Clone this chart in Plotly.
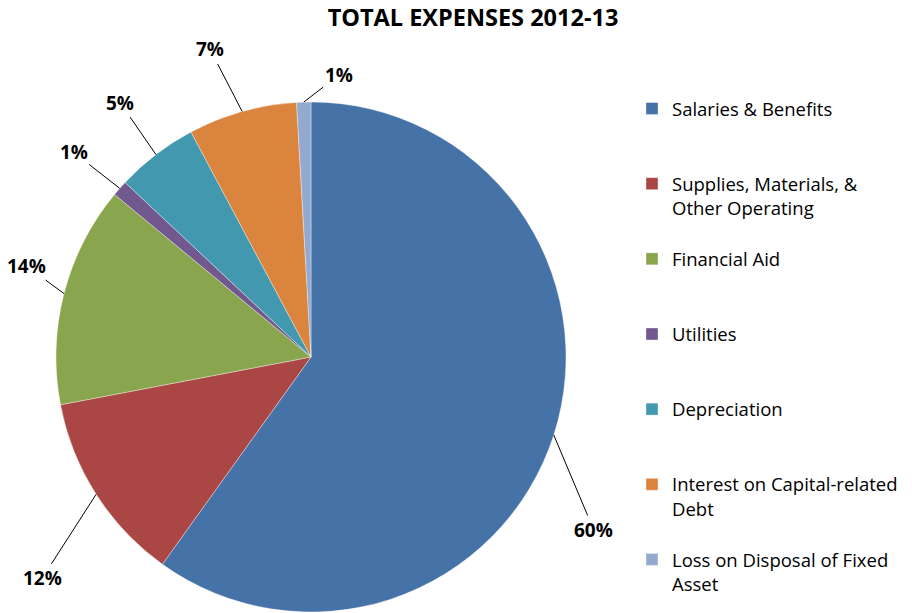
import numpy as np
import plotly.graph_objects as go

# ---- data ----
categories = [
    "Salaries & Benefits",
    "Supplies, Materials, &<br>Other Operating",
    "Financial Aid",
    "Utilities",
    "Depreciation",
    "Interest on Capital-related<br>Debt",
    "Loss on Disposal of Fixed<br>Asset",
]
values = [59.9, 12.1, 14.0, 1.0, 5.2, 6.9, 0.9]
colors = ["#4572A7", "#AA4643", "#89A54E", "#71588F", "#4198AF", "#DB843D", "#93A9CF"]
title_text = "TOTAL EXPENSES 2012-13"

# ---- layout / style ----
W, H = 912, 613
CX, CY, R = 311, 357, 255          # pie centre and radius in pixels
FONT = "Open Sans"
# label offsets (pixels) from slice edge to label, per slice (style only)
label_offsets = [(40, 95), (-54, 84), (-38, -28), (-46, -36), (-36, -52), (-32, -62), (35, -27)]
LINES_PER_ITEM = 3

def pad(lbl, last):
    n = lbl.count("<br>") + 1
    if last:
        return lbl
    return lbl + "<br> " * max(0, LINES_PER_ITEM - n)

legend_labels = [pad(c, i == len(categories) - 1) for i, c in enumerate(categories)]

fig = go.Figure(go.Pie(
    labels=legend_labels,
    values=values,
    marker=dict(colors=colors, line=dict(color="rgba(255,255,255,0.6)", width=0.6)),
    sort=False,
    direction="clockwise",
    rotation=0,
    textinfo="none",
    hoverinfo="percent",
    domain=dict(x=[(CX - R) / W, (CX + R) / W], y=[(H - CY - R) / H, (H - CY + R) / H]),
))

total = float(np.sum(values))
cum = np.cumsum([0.0] + list(values))
annotations = []
for i, v in enumerate(values):
    mid = (cum[i] + v / 2.0) / total * 2 * np.pi
    px = CX + R * np.sin(mid)
    py = CY - R * np.cos(mid)
    ax, ay = label_offsets[i]
    annotations.append(dict(
        x=px / W, y=1 - py / H, xref="paper", yref="paper",
        text=f"{v / total * 100:.0f}%",
        showarrow=True, arrowhead=0, arrowwidth=1, arrowcolor="#000000",
        ax=ax, ay=ay, standoff=0, startstandoff=0,
        font=dict(family=FONT, size=19, color="#000000", weight="bold"),
    ))

fig.update_layout(
    width=W, height=H,
    margin=dict(l=0, r=0, t=0, b=0, autoexpand=False),
    paper_bgcolor="white",
    plot_bgcolor="white",
    title=dict(text=title_text, x=473 / W, xanchor="center", y=1 - 18 / H, yanchor="middle",
               font=dict(family=FONT, size=23.5, color="#000000", weight="bold")),
    annotations=annotations,
    showlegend=True,
    legend=dict(
        x=632 / W, xanchor="left", y=1 - 90 / H, yanchor="top",
        font=dict(family=FONT, size=18.5, color="#000000"),
        valign="top",
        bgcolor="rgba(0,0,0,0)",
    ),
)

fig.write_html(
    "out.html",
    config={"displayModeBar": False},
    post_script="document.body.style.margin='0';document.body.style.overflow='hidden';",
)
